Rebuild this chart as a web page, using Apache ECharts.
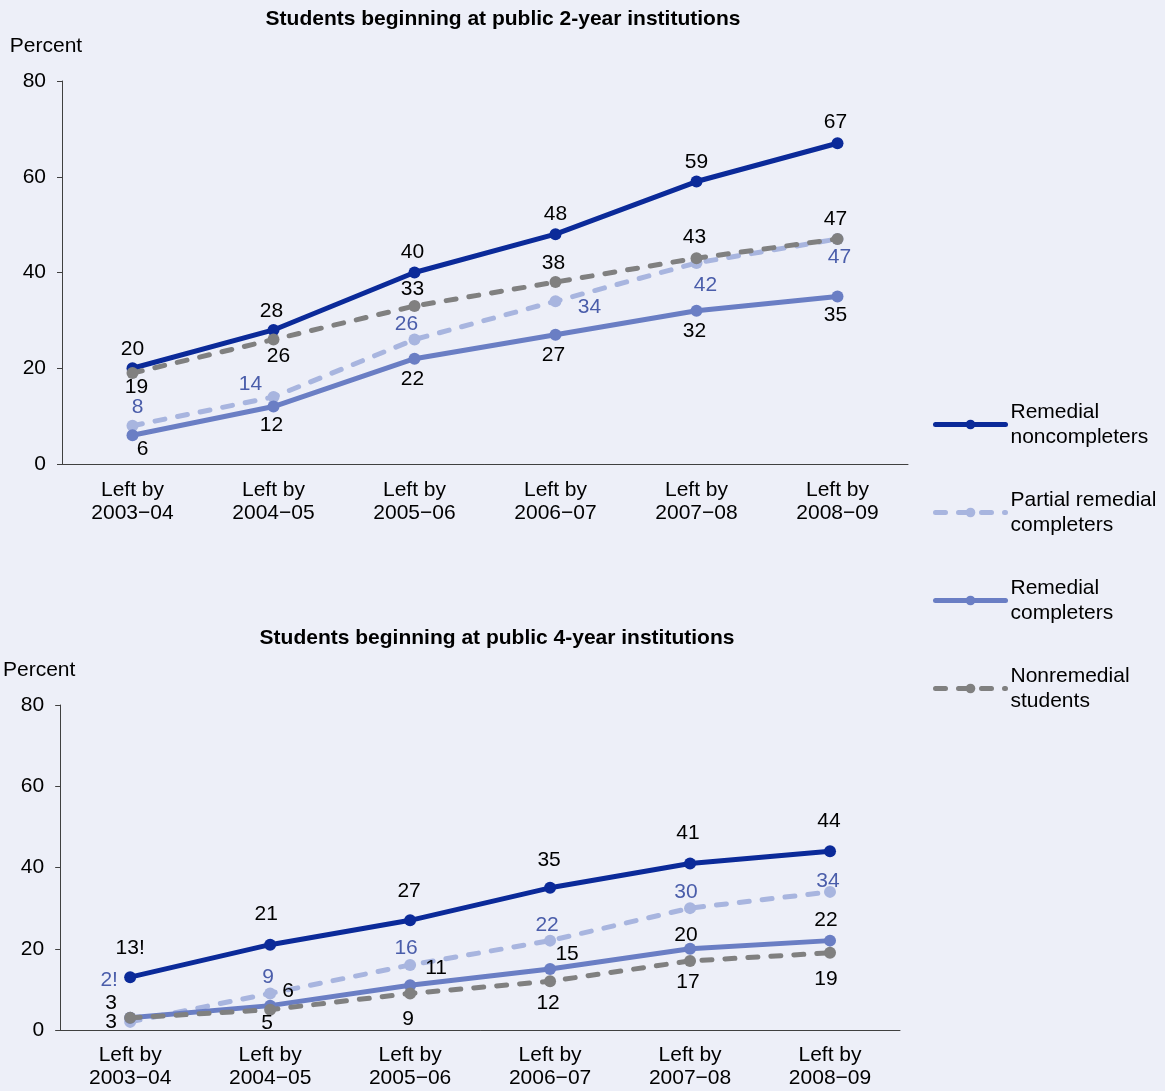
<!DOCTYPE html>
<html><head><meta charset="utf-8">
<script src="https://cdn.jsdelivr.net/npm/echarts@6/dist/echarts.min.js"></script>
<style>html,body{margin:0;padding:0;background:#EDEFF8;}#c{width:1165px;height:1091px;}</style>
</head><body><div id="c"></div>
<script>
const categories = ['Left by\n2003\u221204','Left by\n2004\u221205','Left by\n2005\u221206','Left by\n2006\u221207','Left by\n2007\u221208','Left by\n2008\u221209'];
const seriesNames = ['Remedial\nnoncompleters','Partial remedial\ncompleters','Remedial\ncompleters','Nonremedial\nstudents'];
const yTicks = [0,20,40,60,80];
const titles = ['Students beginning at public 2-year institutions','Students beginning at public 4-year institutions'];

// 2-year
const top_noncompleters = [20,28,40,48,59,67];
const top_partial = [8,14,26,34,42,47];
const top_completers = [6,12,22,27,32,35];
const top_nonremedial = [19,26,33,38,43,47];
// 4-year
const bot_noncompleters = [13,21,27,35,41,44];
const bot_partial = [2,9,16,22,30,34];
const bot_completers = [3,6,11,15,20,22];
const bot_nonremedial = [3,5,9,12,17,19];
// "!" interpret with caution flags
const bot_noncompleters_flag = [true,false,false,false,false,false];
const bot_partial_flag = [true,false,false,false,false,false];

// label offsets (pixels from point)
const topOff = [
  [[0,-19],[-2,-19],[-2,-20],[0,-20],[0,-19],[-2,-21]],
  [[5,-18],[-23,-13],[-8,-15],[34,6],[9,22],[2,18]],
  [[10,14],[-2,19],[-2,21],[-2,20],[-2,20],[-2,19]],
  [[4,14],[5,17],[-2,-17],[-2,-19],[-2,-21],[-2,-20]]
];
const botOff = [
  [[0,-29],[-4,-30],[-1,-29],[-1,-28],[-2,-30],[-1,-30]],
  [[-21,-42],[-2,-16],[-4,-17],[-3,-15],[-4,-16],[-2,-11]],
  [[-19,-15],[18,-14],[26,-17],[17,-15],[-4,-14],[-4,-20]],
  [[-19,4],[-3,14],[-2,26],[-2,22],[-2,21],[-4,26]]
];

const colors = ['#0B2A99','#A8B5DF','#6A7EC4','#808080'];
const labelColors = ['#000','#4A5DAA','#000','#000'];
const dashed = [false,true,false,true];
const FONT = 'Liberation Sans, Arial, sans-serif';
const FS = 21;

function mkSeries(gi, vals, flags, offs){
  return vals.map((v,si)=>({
    name: seriesNames[si], type:'line', xAxisIndex:gi, yAxisIndex:gi,
    symbol:'circle', symbolSize:12, z: 2+si,
    lineStyle:{color:colors[si], width:5, cap:'round', type: dashed[si]?[10,13]:'solid'},
    itemStyle:{color:colors[si]},
    emphasis:{disabled:true},
    data: v.map((d,i)=>({value:d, label:{show:true, position:'inside', offset:offs[si][i],
      color:labelColors[si], fontSize:FS, fontFamily:FONT,
      formatter: String(d) + ((flags[si] && flags[si][i]) ? '!' : '')}}))
  }));
}

const chart = echarts.init(document.getElementById('c'));
const axisLineStyle = {color:'#404040', width:1};
function xAx(gi, margin){
  return {type:'category', gridIndex:gi, data:categories, boundaryGap:true,
    axisLine:{lineStyle:axisLineStyle}, axisTick:{alignWithLabel:true, length:5, lineStyle:axisLineStyle},
    axisLabel:{color:'#000', fontSize:FS, fontFamily:FONT, lineHeight:23, margin:margin}};
}
function yAx(gi, padRight){
  return {type:'value', gridIndex:gi, min:yTicks[0], max:yTicks[yTicks.length-1], interval:yTicks[1]-yTicks[0],
    name:'Percent', nameLocation:'end', nameGap:24,
    nameTextStyle:{color:'#000', fontSize:FS, fontFamily:FONT, align:'center', padding:[0,padRight,0,0]},
    axisLine:{show:true, lineStyle:axisLineStyle}, axisTick:{show:true, length:5, lineStyle:axisLineStyle},
    splitLine:{show:false},
    axisLabel:{color:'#000', fontSize:FS, fontFamily:FONT, margin:16}};
}
const option = {
  backgroundColor:'#EDEFF8',
  animation:false,
  title:[
    {text:titles[0], left:498, top:4, textAlign:'center', textStyle:{fontSize:21, fontWeight:'bold', fontFamily:FONT, color:'#000'}},
    {text:titles[1], left:492, top:623, textAlign:'center', textStyle:{fontSize:21, fontWeight:'bold', fontFamily:FONT, color:'#000'}}
  ],
  grid:[
    {left:62, right:257, top:81, bottom:627, containLabel:false},
    {left:60, right:265, top:705, bottom:61, containLabel:false}
  ],
  xAxis:[xAx(0,15), xAx(1,14)],
  yAxis:[yAx(0,32), yAx(1,42)],
  legend:{orient:'vertical', left:933, top:387, padding:0, itemWidth:70, itemHeight:12, itemGap:13,
    lineStyle:{width:5, cap:'round'},
    textStyle:{fontSize:FS, fontFamily:FONT, color:'#000', lineHeight:25, padding:[25,0,0,0]},
    data:seriesNames},
  series: mkSeries(0,[top_noncompleters,top_partial,top_completers,top_nonremedial],[],topOff)
    .concat(mkSeries(1,[bot_noncompleters,bot_partial,bot_completers,bot_nonremedial],[bot_noncompleters_flag,bot_partial_flag],botOff))
};
chart.setOption(option);
</script></body></html>
